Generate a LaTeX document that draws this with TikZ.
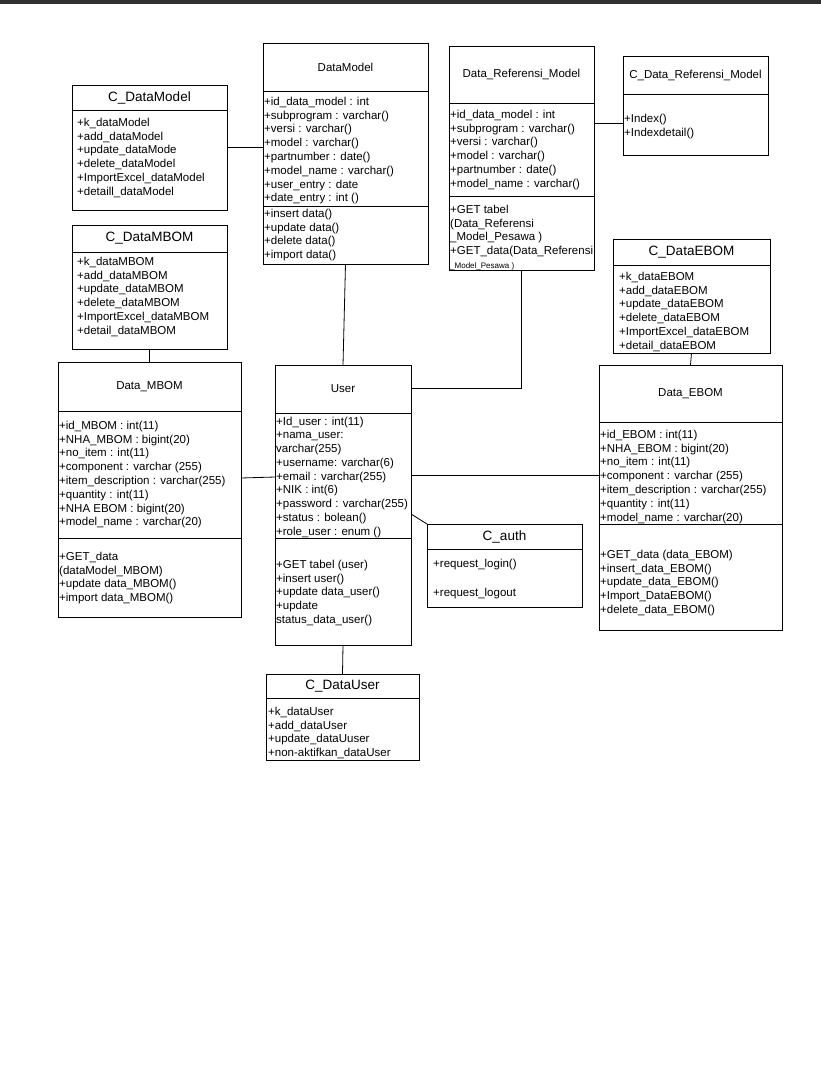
\documentclass[tikz,border=0pt]{standalone}
\usepackage{fontspec}
\setmainfont{Liberation Sans}
\newcommand\attrfont{\fontsize{11.5}{13.8}\selectfont}
\newcommand\bigfont{\fontsize{13.5}{16}\selectfont}
\newcommand\tinyfont{\fontsize{8}{10}\selectfont}
\newcommand\mystrut{\rule{0pt}{9.5pt}}
\begin{document}
\begin{tikzpicture}[x=1pt,y=-1pt,
  boxline/.style={draw=black,line width=0.8pt},
  box/.style={boxline,rectangle,inner sep=0pt,outer sep=0pt,anchor=north west},
  hdr/.style={inner sep=0pt,font=\attrfont},
  bighdr/.style={inner sep=0pt,font=\bigfont},
  attr/.style={anchor=north west,inner sep=0pt,align=left,font=\attrfont,yshift=9.5pt},
  conn/.style={draw=black,line width=0.8pt}]
\newcommand\umlbox[5]{\node[box,minimum width={(#4-#2)*1pt},minimum height={(#5-#3)*1pt}] (#1) at (#2,#3) {};}
\newcommand\sepline[2]{\draw[boxline] (#1.west |- 0,#2) -- (#1.east |- 0,#2);}
\useasboundingbox (0,0) rectangle (821,1065);
\fill[fill={rgb,255:red,48;green,48;blue,48}] (0,0) rectangle (821,4);

% C_DataModel
\umlbox{cdm}{72}{85}{227}{210}
\sepline{cdm}{110}
\node[bighdr] (cdm-t) at (149.5,97.5) {C\_DataModel};
\node[attr] (cdm-a) at (77,126) {\mystrut+k\_dataModel\\+add\_dataModel\\+update\_dataMode\\+delete\_dataModel\\+ImportExcel\_dataModel\\+detaill\_dataModel};

% DataModel
\umlbox{dm}{263}{43}{428}{264}
\sepline{dm}{91}
\sepline{dm}{206}
\node[hdr] (dm-t) at (345.5,67) {DataModel};
\node[attr] (dm-a) at (264,105) {\mystrut+id\_data\_model : int\\+subprogram : varchar()\\+versi : varchar()\\+model : varchar()\\+partnumber : date()\\+model\_name : varchar()\\+user\_entry : date\\+date\_entry : int ()};
\node[attr] (dm-m) at (264,217) {\mystrut+insert data()\\+update data()\\+delete data()\\+import data()};

% Data_Referensi_Model
\umlbox{drm}{449}{46}{594}{270}
\sepline{drm}{103}
\sepline{drm}{196}
\node[hdr] (drm-t) at (521.5,74.5) {Data\_Referensi\_Model};
\node[attr] (drm-a) at (450,118) {\mystrut+id\_data\_model : int\\+subprogram : varchar()\\+versi : varchar()\\+model : varchar()\\+partnumber : date()\\+model\_name : varchar()};
\node[attr] (drm-m) at (450,213) {\mystrut+GET tabel\\(Data\_Referensi\\\_Model\_Pesawa )\\+GET\_data(Data\_Referensi};
\node[anchor=base west,inner sep=0pt,font=\tinyfont] (drm-m2) at (450,268) {\_Model\_Pesawa )};

% C_Data_Referensi_Model
\umlbox{cdrm}{623}{56}{768}{155}
\sepline{cdrm}{94}
\node[hdr] (cdrm-t) at (695.5,75) {C\_Data\_Referensi\_Model};
\node[attr] (cdrm-a) at (624,122) {\mystrut+Index()\\+Indexdetail()};

% C_DataMBOM
\umlbox{cdmb}{72}{225}{227}{349}
\sepline{cdmb}{252}
\node[bighdr] (cdmb-t) at (149.5,238.5) {C\_DataMBOM};
\node[attr] (cdmb-a) at (77,265) {\mystrut+k\_dataMBOM\\+add\_dataMBOM\\+update\_dataMBOM\\+delete\_dataMBOM\\+ImportExcel\_dataMBOM\\+detail\_dataMBOM};

% C_DataEBOM
\umlbox{cdeb}{613}{239}{770}{353}
\sepline{cdeb}{265}
\node[bighdr] (cdeb-t) at (691.5,252) {C\_DataEBOM};
\node[attr] (cdeb-a) at (619,280) {\mystrut+k\_dataEBOM\\+add\_dataEBOM\\+update\_dataEBOM\\+delete\_dataEBOM\\+ImportExcel\_dataEBOM\\+detail\_dataEBOM};

% Data_MBOM
\umlbox{dmb}{58}{362}{241}{617}
\sepline{dmb}{411}
\sepline{dmb}{538}
\node[hdr] (dmb-t) at (149.5,386.5) {Data\_MBOM};
\node[attr] (dmb-a) at (59,429) {\mystrut+id\_MBOM : int(11)\\+NHA\_MBOM : bigint(20)\\+no\_item : int(11)\\+component : varchar (255)\\+item\_description : varchar(255)\\+quantity : int(11)\\+NHA EBOM : bigint(20)\\+model\_name : varchar(20)};
\node[attr] (dmb-m) at (59,560) {\mystrut+GET\_data\\(dataModel\_MBOM)\\+update data\_MBOM()\\+import data\_MBOM()};

% User
\umlbox{user}{275}{365}{411}{645}
\sepline{user}{413}
\sepline{user}{538}
\node[hdr] (user-t) at (343,389) {User};
\node[attr,font=\fontsize{11.5}{13.75}\selectfont] (user-a) at (276,425) {\mystrut+Id\_user : int(11)\\+nama\_user:\\varchar(255)\\+username: varchar(6)\\+email : varchar(255)\\+NIK : int(6)\\+password : varchar(255)\\+status : bolean()\\+role\_user : enum ()};
\node[attr] (user-m) at (276,568) {\mystrut+GET tabel (user)\\+insert user()\\+update data\_user()\\+update\\status\_data\_user()};

% Data_EBOM
\umlbox{deb}{599}{365}{782}{630}
\sepline{deb}{422}
\sepline{deb}{524}
\node[hdr] (deb-t) at (690.5,393.5) {Data\_EBOM};
\node[attr] (deb-a) at (600,438) {\mystrut+id\_EBOM : int(11)\\+NHA\_EBOM : bigint(20)\\+no\_item : int(11)\\+component : varchar (255)\\+item\_description : varchar(255)\\+quantity : int(11)\\+model\_name : varchar(20)};
\node[attr] (deb-m) at (600,558) {\mystrut+GET\_data (data\_EBOM)\\+insert\_data\_EBOM()\\+update\_data\_EBOM()\\+Import\_DataEBOM()\\+delete\_data\_EBOM()};

% C_auth
\umlbox{cauth}{427}{524}{582}{607}
\sepline{cauth}{549}
\node[bighdr] (cauth-t) at (504.5,536.5) {C\_auth};
\node[attr] (cauth-a) at (433,567) {\mystrut+request\_login()};
\node[attr] (cauth-b) at (433,596) {\mystrut+request\_logout};

% C_DataUser
\umlbox{cdu}{266}{674}{419}{760}
\sepline{cdu}{698}
\node[bighdr] (cdu-t) at (342.5,686) {C\_DataUser};
\node[attr] (cdu-a) at (268,715) {\mystrut+k\_dataUser\\+add\_dataUser\\+update\_dataUuser\\+non-aktifkan\_dataUser};

% connectors
\draw[conn] (cdm.east) -- (dm.west |- cdm.east);
\draw[conn] (dm.south) -- (user.north);
\draw[conn] (user.east |- 0,388) -| (drm.south);
\draw[conn] (drm.east |- 0,123) -- (cdrm.west |- 0,123);
\draw[conn] (cdmb.south) -- (dmb.north);
\draw[conn] (dmb.east |- 0,478) -- (user.west |- 0,477);
\draw[conn] (user.east |- 0,475) -- (deb.west |- 0,475);
\draw[conn] (user.east |- 0,514) -- (cauth.north west);
\draw[conn] (user.south) -- (cdu.north);
\draw[conn] (cdeb.south) -- (deb.north);
\end{tikzpicture}
\end{document}
